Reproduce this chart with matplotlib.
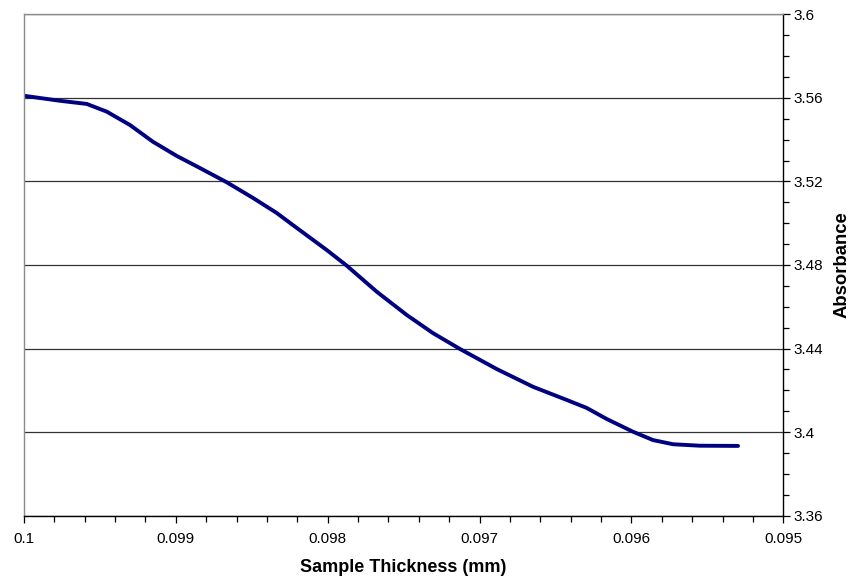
import matplotlib
matplotlib.use("Agg")
import matplotlib.pyplot as plt
from matplotlib.ticker import FixedLocator, FixedFormatter, MultipleLocator

plt.rcParams['font.family'] = ['Liberation Sans', 'DejaVu Sans']

thickness = [0.1, 0.099763, 0.099587, 0.099455, 0.099302, 0.099151, 0.098994, 0.098841,
             0.098665, 0.098492, 0.098336, 0.098229, 0.098007, 0.097875, 0.097677, 0.097480,
             0.097307, 0.097129, 0.096887, 0.096648, 0.096426, 0.096295, 0.096163, 0.095990,
             0.095858, 0.095726, 0.095549, 0.095298]
absorbance = [3.5610, 3.5586, 3.5571, 3.5534, 3.5470, 3.5390, 3.5322, 3.5264,
              3.5196, 3.5121, 3.5049, 3.4991, 3.4872, 3.4797, 3.4672, 3.4561,
              3.4474, 3.4398, 3.4302, 3.4217, 3.4154, 3.4116, 3.4063, 3.4002,
              3.3962, 3.3942, 3.3935, 3.3934]

x_ticks = [0.1, 0.099, 0.098, 0.097, 0.096, 0.095]
x_tick_labels = ['0.1', '0.099', '0.098', '0.097', '0.096', '0.095']
y_ticks = [3.36, 3.4, 3.44, 3.48, 3.52, 3.56, 3.6]
y_tick_labels = ['3.36', '3.4', '3.44', '3.48', '3.52', '3.56', '3.6']

fig = plt.figure(figsize=(8.51, 5.78), dpi=100)
ax_left, ax_right, ax_top, ax_bottom = 24, 783.3, 14.3, 515.7
ax = fig.add_axes([ax_left/851, 1-ax_bottom/578, (ax_right-ax_left)/851, (ax_bottom-ax_top)/578])

ax.plot(thickness, absorbance, color='#000080', lw=2.8, solid_capstyle='round',
        solid_joinstyle='round')

ax.set_xlim(0.1, 0.095)
ax.set_ylim(3.36, 3.6)

ax.xaxis.set_major_locator(FixedLocator(x_ticks))
ax.xaxis.set_major_formatter(FixedFormatter(x_tick_labels))
ax.xaxis.set_minor_locator(MultipleLocator(0.0002))
ax.yaxis.set_major_locator(FixedLocator(y_ticks))
ax.yaxis.set_major_formatter(FixedFormatter(y_tick_labels))
ax.yaxis.set_minor_locator(MultipleLocator(0.01))

ax.yaxis.tick_right()
ax.yaxis.set_label_position('right')

ax.grid(axis='y', which='major', color='#333333', lw=0.9)
ax.set_axisbelow(True)

for s in ['left', 'top']:
    ax.spines[s].set_color('#8c8c8c')
for s in ['right', 'bottom']:
    ax.spines[s].set_color('black')
for s in ax.spines.values():
    s.set_linewidth(1.0)

ax.tick_params(axis='both', which='major', length=5, width=0.9, labelsize=11, direction='out')
ax.tick_params(axis='both', which='minor', length=4, width=0.9, direction='out')
ax.tick_params(axis='x', which='both', top=False, bottom=True, pad=7)
ax.tick_params(axis='y', which='both', left=False, right=True, pad=2.5)

ax.set_xlabel('Sample Thickness (mm)', fontsize=13, fontweight='bold', labelpad=9)
ax.set_ylabel('Absorbance', fontsize=13.3, fontweight='bold', rotation=90)
ax.yaxis.label.set_horizontalalignment('center')
ax.yaxis.label.set_verticalalignment('center')
ax.yaxis.set_label_coords((842.5 - ax_left) / (ax_right - ax_left), 0.5)

fig.savefig('out.png', dpi=100)
